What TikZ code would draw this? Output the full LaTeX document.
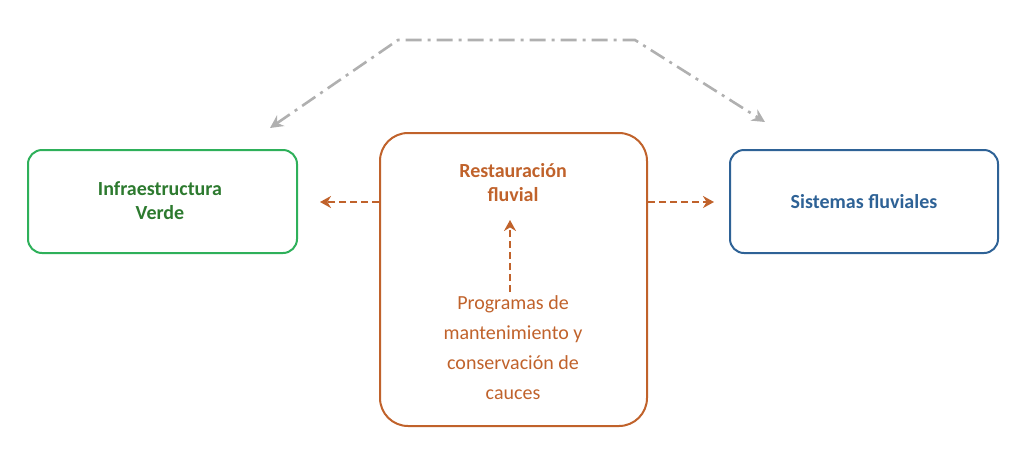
\documentclass[tikz,border=0pt]{standalone}
\usepackage{fontspec}
\setmainfont{Carlito}
\usetikzlibrary{arrows.meta}
\definecolor{gr}{HTML}{2EB05A}
\definecolor{grt}{HTML}{2D7A2F}
\definecolor{bl}{HTML}{2E6296}
\definecolor{orc}{HTML}{C0622B}
\definecolor{gy}{HTML}{B0B0B0}
\begin{document}
\begin{tikzpicture}[x=1pt,y=-1pt,
 box/.style={draw,line width=2pt,rounded corners=14pt,align=center,inner sep=0},
 oarrow/.style={orc,line width=2.6pt,dashed,dash pattern=on 7pt off 4pt,-{Stealth[length=11pt,width=12pt]}},
 garrow/.style={gy,line width=2.6pt,dash pattern=on 16pt off 6pt on 3pt off 6pt,{Stealth[length=13pt,width=13pt]}-{Stealth[length=13pt,width=13pt]}}]
\useasboundingbox (0,0) rectangle (1030,459);
\node[box,draw=gr,minimum width=269pt,minimum height=103pt] (iv) at (162.5,201.5) {};
\node[font=\fontsize{20}{24}\selectfont\bfseries,text=grt,align=center] (ivt) at (160,201) {Infraestructura\\Verde};
\node[box,draw=bl,minimum width=268pt,minimum height=103pt,font=\fontsize{20}{24}\selectfont\bfseries,text=bl] (sf) at (864,201.5) {Sistemas fluviales};
\node[box,draw=orc,rounded corners=28pt,minimum width=267pt,minimum height=293pt] (rf) at (513.5,279.5) {};
\node[font=\fontsize{20}{24}\selectfont\bfseries,text=orc,align=center] (rft) at (513,183) {Restauración\\fluvial};
\node[font=\fontsize{20}{30}\selectfont,text=orc,align=center] (pm) at (513,348) {Programas de\\mantenimiento y\\conservación de\\cauces};
\coordinate (lt) at (320,202); \coordinate (rt) at (714,202);
\draw[oarrow] (rf.west|-lt) -- (lt);
\draw[oarrow] (rf.east|-rt) -- (rt);
\draw[oarrow] (510,292) -- (510,220);
\coordinate (a1) at (270,128); \coordinate (a2) at (398,40); \coordinate (a3) at (635,40); \coordinate (a4) at (765,122);
\draw[garrow] (a1) -- (a2) -- (a3) -- (a4);
\end{tikzpicture}
\end{document}
